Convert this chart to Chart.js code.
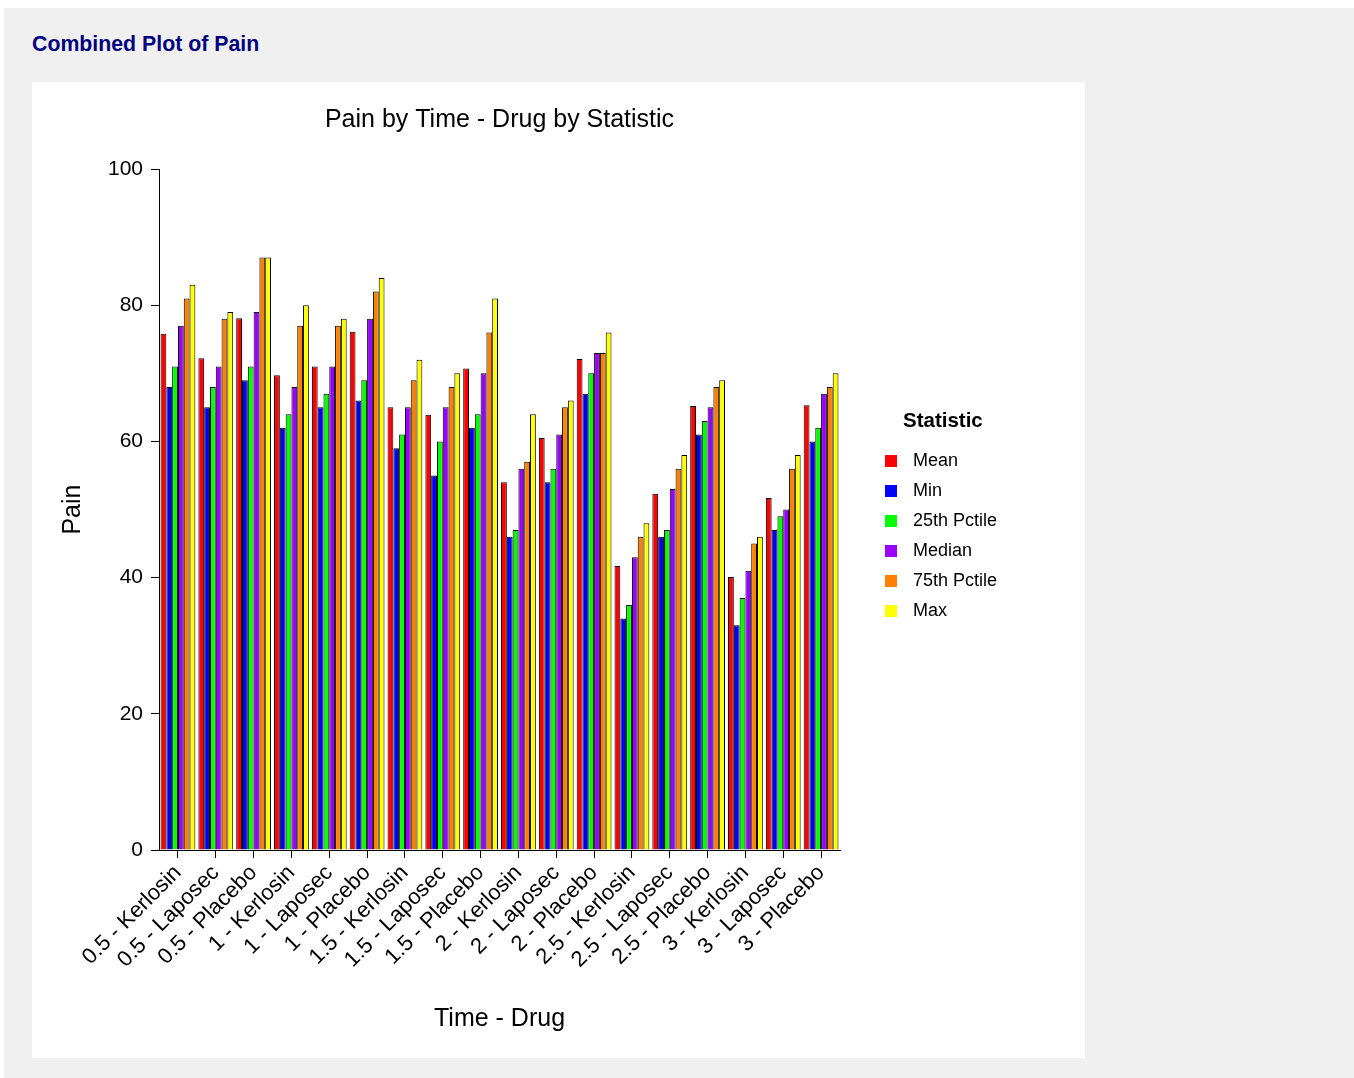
<!DOCTYPE html>
<html>
<head>
<meta charset="utf-8">
<script src="https://cdn.jsdelivr.net/npm/chart.js@4.4.0/dist/chart.umd.min.js"></script>
<style>
  body { margin: 0; background: #fff; font-family: Arial, "Liberation Sans", sans-serif; }
  #fond { position: absolute; left: 4px; top: 8px; width: 1350px; height: 1070px; background: #f0f0f0; }
  #titre { position: absolute; left: 32px; top: 32px; font-size: 21.3px; font-weight: bold; color: #000080; }
  #panneau { position: absolute; left: 32px; top: 82px; width: 1053px; height: 976px; background: #fff; }
  #legende { position: absolute; left: 853px; top: 326px; color: #000; }
  #legende .tit { font-size: 20.5px; font-weight: bold; margin-left: 18px; margin-bottom: 18px; }
  #legende .item { font-size: 18px; height: 30px; line-height: 20px; }
  #legende .carre { display: inline-block; width: 12px; height: 12px; margin-right: 16px; vertical-align: -1px; }
</style>
</head>
<body>
<div id="fond"></div>
<div id="titre">Combined Plot of Pain</div>
<div id="panneau">
  <canvas id="grafico" width="1053" height="976"></canvas>
  <div id="legende"></div>
</div>
<script>
// categorias (Time - Drug)
const categorias = [
  '0.5 - Kerlosin', '0.5 - Laposec', '0.5 - Placebo',
  '1 - Kerlosin', '1 - Laposec', '1 - Placebo',
  '1.5 - Kerlosin', '1.5 - Laposec', '1.5 - Placebo',
  '2 - Kerlosin', '2 - Laposec', '2 - Placebo',
  '2.5 - Kerlosin', '2.5 - Laposec', '2.5 - Placebo',
  '3 - Kerlosin', '3 - Laposec', '3 - Placebo'
];

// valores por estatística
const media    = [75.8, 72.2, 78.1, 69.7, 71.0, 76.1, 65.0, 63.9, 70.7, 54.0, 60.5, 72.1, 41.7, 52.3, 65.2, 40.1, 51.7, 65.3];
const minimo   = [68, 65, 69, 62, 65, 66, 59, 55, 62, 46, 54, 67, 34, 46, 61, 33, 47, 60];
const pct25    = [71, 68, 71, 64, 67, 69, 61, 60, 64, 47, 56, 70, 36, 47, 63, 37, 49, 62];
const mediana  = [77, 71, 79, 68, 71, 78, 65, 65, 70, 56, 61, 73, 43, 53, 65, 41, 50, 67];
const pct75    = [81, 78, 87, 77, 77, 82, 69, 68, 76, 57, 65, 73, 46, 56, 68, 45, 56, 68];
const maximo   = [83, 79, 87, 80, 78, 84, 72, 70, 81, 64, 66, 76, 48, 58, 69, 46, 58, 70];

const nomesSeries = ['Mean', 'Min', '25th Pctile', 'Median', '75th Pctile', 'Max'];
const coresSeries = ['#ff0000', '#0000ff', '#00ff00', '#9900ff', '#ff8000', '#ffff00'];
const ticksY = [0, 20, 40, 60, 80, 100];

const valores = [media, minimo, pct25, mediana, pct75, maximo];

const datasets = valores.map((v, i) => ({
    label: nomesSeries[i],
    data: v,
    backgroundColor: coresSeries[i],
    borderColor: '#000',
    borderWidth: 1,
    barPercentage: 1.0,
    categoryPercentage: 0.92
}));

// título centrado sobre a área do gráfico
const tituloPlugin = {
    id: 'tituloPlugin',
    afterDraw(chart) {
        const ctx = chart.ctx;
        const a = chart.chartArea;
        ctx.save();
        ctx.font = '25px Arial';
        ctx.fillStyle = '#000';
        ctx.textAlign = 'center';
        ctx.textBaseline = 'middle';
        ctx.fillText('Pain by Time - Drug by Statistic', (a.left + a.right) / 2, 38);
        ctx.restore();
    }
};

const ctx = document.getElementById('grafico').getContext('2d');
const grafico = new Chart(ctx, {
    type: 'bar',
    data: { labels: categorias, datasets: datasets },
    plugins: [tituloPlugin],
    options: {
        responsive: false,
        animation: false,
        layout: { padding: { top: 87, right: 245, left: 22, bottom: 20 } },
        plugins: {
            legend: { display: false },
            tooltip: { enabled: false }
        },
        scales: {
            x: {
                grid: { display: true, offset: false, drawOnChartArea: false, drawTicks: true, tickLength: 8, color: '#000' },
                border: { display: true, color: '#000', width: 1 },
                ticks: {
                    color: '#000', font: { family: 'Arial', size: 22 },
                    maxRotation: 45, minRotation: 45, autoSkip: false, padding: 2
                },
                title: { display: true, text: 'Time - Drug', color: '#000', font: { family: 'Arial', size: 25 }, padding: { top: 29 } }
            },
            y: {
                min: 0, max: 100,
                afterBuildTicks: axis => { axis.ticks = ticksY.map(v => ({ value: v })); },
                grid: { display: true, drawOnChartArea: false, drawTicks: true, tickLength: 8, color: '#000' },
                border: { display: true, color: '#000', width: 1 },
                ticks: { color: '#000', font: { family: 'Arial', size: 21 }, padding: 8 },
                title: { display: true, text: 'Pain', color: '#000', font: { family: 'Arial', size: 25 }, padding: { bottom: 12 } }
            }
        }
    }
});

// legenda em HTML a partir dos datasets
const legenda = document.getElementById('legende');
let html = '<div class="tit">Statistic</div>';
grafico.data.datasets.forEach(d => {
    html += '<div class="item"><span class="carre" style="background:' + d.backgroundColor + '"></span>' + d.label + '</div>';
});
legenda.innerHTML = html;
</script>
</body>
</html>
